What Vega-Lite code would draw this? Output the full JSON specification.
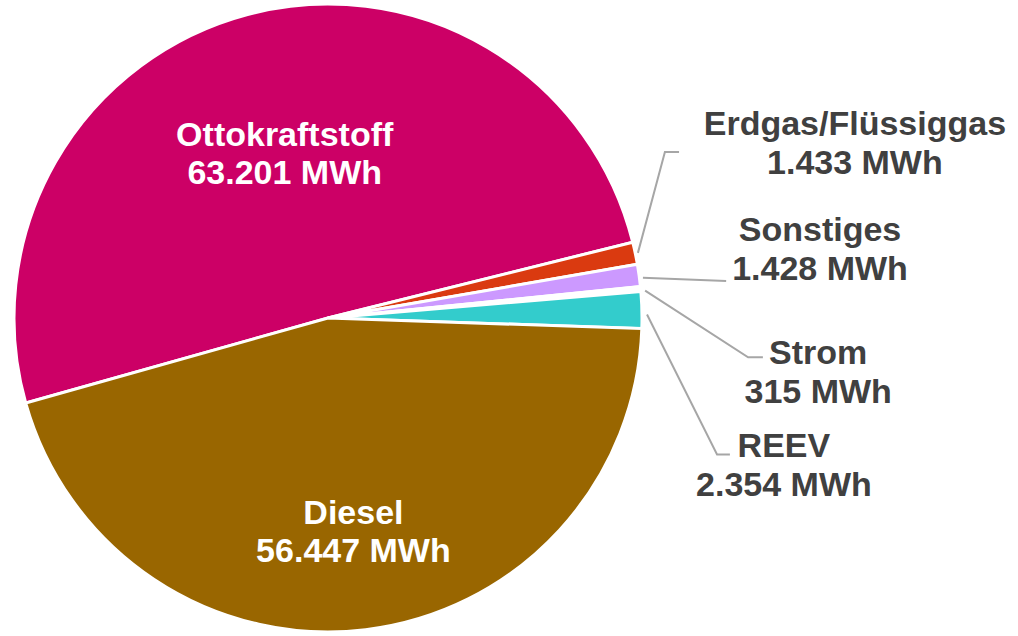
{
  "$schema": "https://vega.github.io/schema/vega-lite/v6.json",
  "width": 1018,
  "height": 636,
  "padding": 0,
  "autosize": {"type": "fit", "contains": "padding"},
  "background": "white",
  "config": {"view": {"stroke": null}},
  "datasets": {
    "anteile": [
      {"kategorie": "Ottokraftstoff", "wert": 63201, "ord": 1, "label": "Ottokraftstoff\n63.201 MWh"},
      {"kategorie": "Erdgas/Flüssiggas", "wert": 1433, "ord": 2, "label": "Erdgas/Flüssiggas\n1.433 MWh"},
      {"kategorie": "Sonstiges", "wert": 1428, "ord": 3, "label": "Sonstiges\n1.428 MWh"},
      {"kategorie": "Strom", "wert": 315, "ord": 4, "label": "Strom\n315 MWh"},
      {"kategorie": "REEV", "wert": 2354, "ord": 5, "label": "REEV\n2.354 MWh"},
      {"kategorie": "Diesel", "wert": 56447, "ord": 6, "label": "Diesel\n56.447 MWh"}
    ],
    "aussenlabels": [
      {"kategorie": "Erdgas/Flüssiggas", "label": "Erdgas/Flüssiggas\n1.433 MWh", "x": 1.678, "y": 0.567},
      {"kategorie": "Sonstiges", "label": "Sonstiges\n1.428 MWh", "x": 1.567, "y": 0.228},
      {"kategorie": "Strom", "label": "Strom\n315 MWh", "x": 1.561, "y": -0.166},
      {"kategorie": "REEV", "label": "REEV\n2.354 MWh", "x": 1.452, "y": -0.467}
    ],
    "linien": [
      {"kategorie": "Erdgas/Flüssiggas", "p": 1, "x": 0.987, "y": 0.209},
      {"kategorie": "Erdgas/Flüssiggas", "p": 2, "x": 1.073, "y": 0.533},
      {"kategorie": "Erdgas/Flüssiggas", "p": 3, "x": 1.118, "y": 0.533},
      {"kategorie": "Sonstiges", "p": 1, "x": 1.003, "y": 0.129},
      {"kategorie": "Sonstiges", "p": 2, "x": 1.268, "y": 0.119},
      {"kategorie": "Strom", "p": 1, "x": 1.010, "y": 0.088},
      {"kategorie": "Strom", "p": 2, "x": 1.338, "y": -0.126},
      {"kategorie": "Strom", "p": 3, "x": 1.385, "y": -0.126},
      {"kategorie": "REEV", "p": 1, "x": 1.016, "y": 0.011},
      {"kategorie": "REEV", "p": 2, "x": 1.239, "y": -0.438},
      {"kategorie": "REEV", "p": 3, "x": 1.280, "y": -0.438}
    ]
  },
  "layer": [
    {
      "data": {"name": "anteile"},
      "mark": {"type": "arc", "outerRadius": 314, "stroke": "white", "strokeWidth": 3},
      "encoding": {
        "x": {"datum": 0, "type": "quantitative", "scale": {"domain": [-1.0446, 2.1975], "zero": false, "nice": false}, "axis": null},
        "y": {"datum": 0, "type": "quantitative", "scale": {"domain": [-1.0048, 1.0207], "zero": false, "nice": false}, "axis": null},
        "theta": {"field": "wert", "type": "quantitative", "stack": true, "scale": {"range": [4.438, 10.7212]}},
        "order": {"field": "ord", "type": "quantitative"},
        "color": {
          "field": "kategorie", "type": "nominal", "legend": null,
          "scale": {
            "domain": ["Ottokraftstoff", "Erdgas/Flüssiggas", "Sonstiges", "Strom", "REEV", "Diesel"],
            "range": ["#CC0066", "#DA3A10", "#CC99FF", "#FFFFFF", "#33CCCC", "#996600"]
          }
        }
      }
    },
    {
      "data": {"name": "anteile"},
      "mark": {"type": "text", "radius": 169, "dy": -19, "font": "Liberation Sans", "fontWeight": "bold", "fontSize": 34, "lineHeight": 38, "lineBreak": "\n", "fill": "white", "align": "center", "baseline": "middle"},
      "encoding": {
        "x": {"datum": 0, "type": "quantitative"},
        "y": {"datum": 0, "type": "quantitative"},
        "theta": {"field": "wert", "type": "quantitative", "stack": true},
        "order": {"field": "ord", "type": "quantitative"},
        "text": {"condition": {"test": "datum.kategorie === 'Ottokraftstoff'", "field": "label"}, "value": ""}
      }
    },
    {
      "data": {"name": "anteile"},
      "mark": {"type": "text", "radius": 212, "dy": -14, "font": "Liberation Sans", "fontWeight": "bold", "fontSize": 34, "lineHeight": 38, "lineBreak": "\n", "fill": "white", "align": "center", "baseline": "middle"},
      "encoding": {
        "x": {"datum": 0, "type": "quantitative"},
        "y": {"datum": 0, "type": "quantitative"},
        "theta": {"field": "wert", "type": "quantitative", "stack": true},
        "order": {"field": "ord", "type": "quantitative"},
        "text": {"condition": {"test": "datum.kategorie === 'Diesel'", "field": "label"}, "value": ""}
      }
    },
    {
      "data": {"name": "linien"},
      "mark": {"type": "line", "color": "#A6A6A6", "strokeWidth": 2},
      "encoding": {
        "x": {"field": "x", "type": "quantitative"},
        "y": {"field": "y", "type": "quantitative"},
        "detail": {"field": "kategorie", "type": "nominal"},
        "order": {"field": "p", "type": "quantitative"}
      }
    },
    {
      "data": {"name": "aussenlabels"},
      "mark": {"type": "text", "dy": -16, "font": "Liberation Sans", "fontWeight": "bold", "fontSize": 34, "lineHeight": 39, "lineBreak": "\n", "fill": "#404040", "align": "center", "baseline": "middle"},
      "encoding": {
        "x": {"field": "x", "type": "quantitative"},
        "y": {"field": "y", "type": "quantitative"},
        "text": {"field": "label", "type": "nominal"}
      }
    }
  ]
}
